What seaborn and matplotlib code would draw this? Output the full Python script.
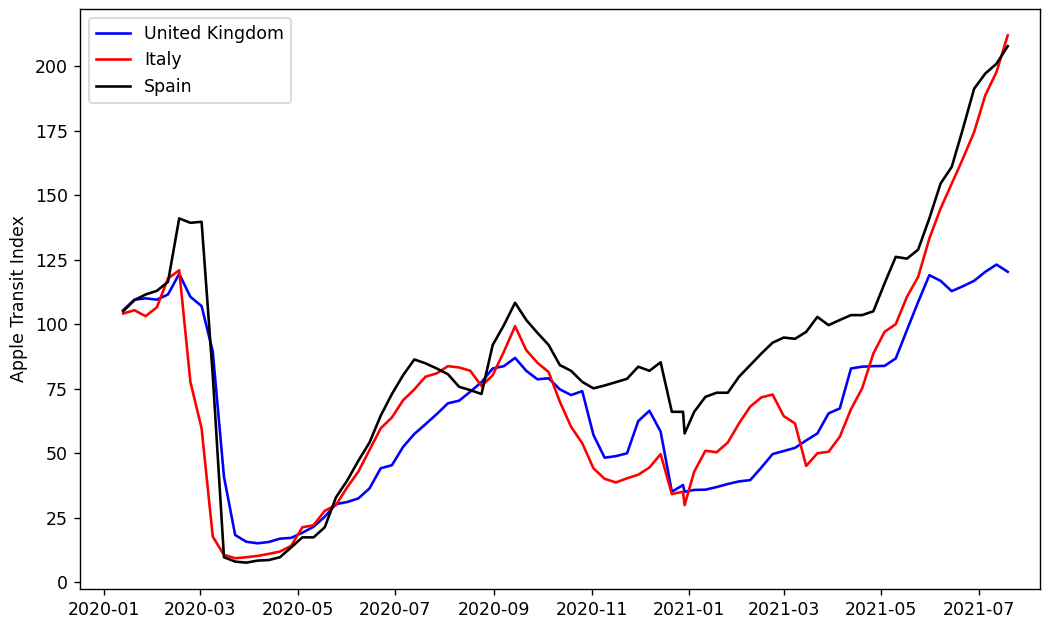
import numpy as np
import pandas as pd
import matplotlib
matplotlib.use("Agg")
import matplotlib.pyplot as plt
import seaborn as sns

# weekly points, with a short extra week at the turn of the year
dates = list(pd.date_range("2020-01-13", "2020-12-28", freq="7D")) \
    + [pd.Timestamp("2020-12-29")] \
    + list(pd.date_range("2021-01-04", "2021-07-19", freq="7D"))

uk = [105.4, 109.5, 110.0, 109.5, 111.5, 119.5, 110.6, 107.0, 89.3, 40.8,
      18.2, 15.6, 15.0, 15.5, 16.8, 17.1, 19.1, 21.4, 25.3, 30.2,
      31.0, 32.4, 36.3, 44.1, 45.3, 52.4, 57.4, 61.2, 65.1, 69.3,
      70.3, 73.8, 77.5, 82.8, 83.7, 86.9, 81.9, 78.6, 79.0, 74.7,
      72.5, 74.0, 57.0, 48.2, 48.8, 49.9, 62.4, 66.4, 58.3, 35.0,
      37.6, 35.0, 35.7, 35.8, 36.8, 38.0, 39.0, 39.5, 44.4, 49.6,
      50.8, 52.0, 54.9, 57.6, 65.4, 67.3, 82.8, 83.5, 83.7, 83.8,
      86.7, 97.7, 108.6, 119.0, 116.8, 112.8, 114.7, 116.8, 120.3, 123.1,
      120.3]

italy = [104.1, 105.4, 103.1, 106.5, 117.7, 120.9, 77.6, 59.6, 17.6, 10.5,
         9.2, 9.6, 10.1, 10.9, 11.8, 14.0, 21.2, 22.0, 27.6, 29.8,
         36.7, 42.8, 51.2, 59.6, 63.8, 70.5, 74.7, 79.6, 80.9, 83.7,
         83.2, 81.9, 76.0, 80.2, 89.3, 99.2, 89.9, 85.0, 81.4, 69.9,
         60.2, 53.8, 44.1, 40.0, 38.6, 40.2, 41.6, 44.4, 49.6, 34.1,
         35.0, 29.8, 42.8, 50.9, 50.3, 54.1, 61.5, 68.0, 71.6, 72.7,
         64.3, 61.5, 45.0, 49.9, 50.5, 56.3, 67.0, 75.1, 88.6, 97.0,
         100.0, 110.6, 118.3, 133.2, 144.8, 154.5, 164.2, 174.5, 188.8, 197.8,
         212.0]

spain = [105.0, 109.3, 111.5, 112.9, 116.4, 141.0, 139.3, 139.7, 80.0, 9.6,
         7.9, 7.5, 8.3, 8.5, 9.6, 13.4, 17.3, 17.3, 21.2, 32.8,
         39.3, 47.0, 54.1, 64.5, 72.9, 80.2, 86.3, 84.8, 82.8, 80.6,
         75.7, 74.4, 72.9, 91.9, 99.6, 108.3, 101.6, 96.6, 91.9, 84.1,
         81.9, 77.6, 75.1, 76.2, 77.5, 78.8, 83.5, 81.9, 85.2, 66.0,
         66.0, 57.6, 66.0, 71.8, 73.4, 73.4, 79.6, 84.1, 88.6, 92.8,
         94.8, 94.3, 97.0, 102.8, 99.6, 101.6, 103.5, 103.5, 105.0, 115.8,
         126.1, 125.4, 128.9, 141.0, 154.5, 161.0, 175.8, 191.3, 197.2, 201.0,
         207.8]

countries = ["United Kingdom", "Italy", "Spain"]
colors = {"United Kingdom": "blue", "Italy": "red", "Spain": "black"}

df = pd.concat([
    pd.DataFrame({"date": dates, "value": vals, "country": name})
    for name, vals in zip(countries, [uk, italy, spain])
], ignore_index=True)

fig = plt.figure(figsize=(1042 / 125, 620 / 125), dpi=125)
ax = fig.add_axes([0.0768, 0.05, 0.921, 0.9355])

sns.lineplot(data=df, x="date", y="value", hue="country", hue_order=countries,
             palette=colors, linewidth=1.5, estimator=None, ax=ax)

ax.set_xlim(pd.Timestamp("2019-12-17"), pd.Timestamp("2021-08-08"))
ax.set_xlabel("")
ax.set_ylabel("Apple Transit Index")
ax.legend(loc="upper left")

fig.savefig("out.png", dpi=125)
